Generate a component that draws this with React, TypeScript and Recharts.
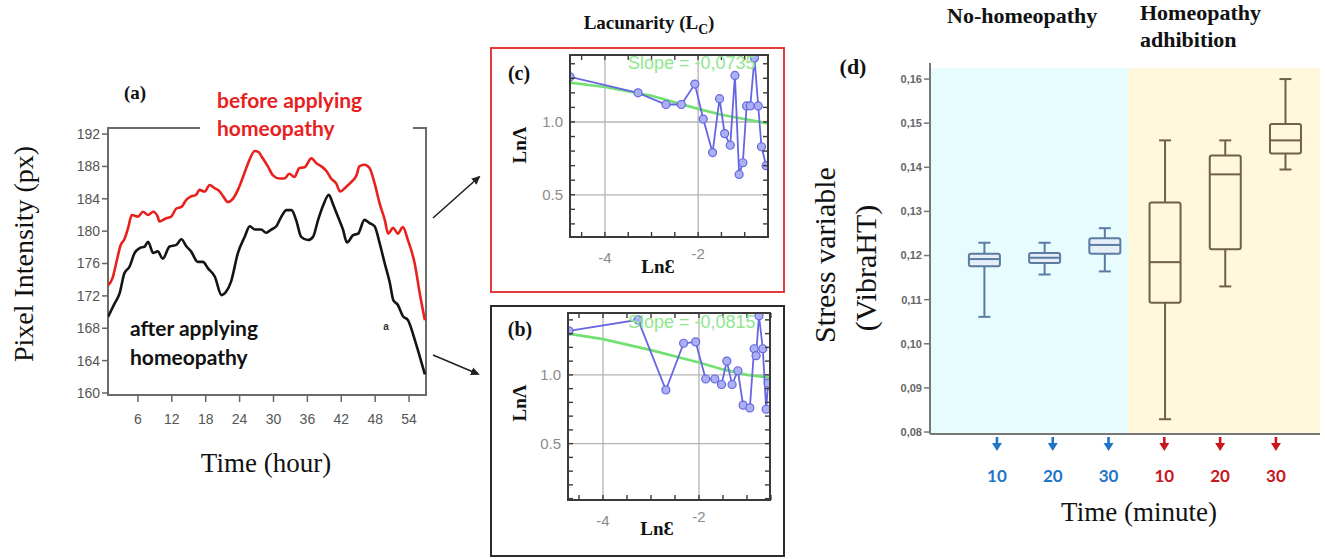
import React from "react";
import {
  LineChart,
  Line,
  XAxis,
  YAxis,
  ReferenceArea,
  ReferenceLine,
  ComposedChart,
  Bar,
} from "recharts";

// ---------------------------------------------------------------------------
// Datos
// ---------------------------------------------------------------------------

// (a) intensidad de píxel vs tiempo
const beforeHours = [0.7, 1.5, 2.3, 2.9, 3.6, 4.3, 4.9, 6, 6.9, 7.8, 8.7, 9.5, 9.8, 11, 11.9, 12.8, 13.7, 14.6, 15.4, 16.3, 16.9, 17.8, 18.7, 19.6, 20.5, 21.1, 21.9, 22.8, 23.7, 24.6, 25.5, 26.7, 27.3, 28.1, 29, 29.9, 31.1, 31.9, 32.8, 33.7, 34.6, 35.5, 36.7, 37.6, 38.5, 39.4, 40.2, 41.1, 41.8, 42.9, 43.8, 44.7, 45.2, 46.1, 47, 47.9, 48.8, 49.7, 50.3, 51.2, 52, 52.9, 53.8, 55, 55.9, 56.8];
const beforeValues = [173.3, 174.2, 176.5, 178.2, 179, 180.5, 182, 181.8, 182.4, 182, 182.4, 181.8, 181.2, 181.6, 181.8, 182.8, 183, 183.9, 184.3, 184.5, 185.1, 184.9, 185.7, 185.3, 184.9, 184.3, 183.6, 184, 185.1, 186.7, 188.4, 189.9, 189.8, 189, 188, 186.9, 186.5, 186.5, 187.1, 186.7, 187.8, 187.9, 189, 188.4, 188, 187.4, 186.5, 185.9, 184.9, 185.5, 186.1, 186.9, 188, 188.2, 187.8, 185.9, 183.4, 181.4, 179.7, 180.4, 179.7, 180.5, 178.9, 176, 172.3, 169];

const afterHours = [0.7, 1.9, 2.75, 3.6, 4.5, 5.4, 6.3, 7.2, 7.8, 8.7, 9.5, 10.4, 11.6, 12.8, 13.7, 14.6, 15.4, 16.6, 17.5, 18.4, 19.6, 20.8, 21.6, 22.5, 23.7, 24.9, 25.8, 26.7, 27.8, 28.7, 29.6, 30.5, 31.4, 32.3, 33.2, 34, 34.9, 36.1, 37, 37.9, 38.8, 39.8, 40.5, 41.4, 42.3, 43, 44.1, 45, 46.1, 47, 47.9, 48.8, 49.7, 50.6, 51.2, 52, 52.9, 53.8, 55, 55.9, 56.8];
const afterValues = [169.4, 171.1, 172.3, 174.8, 175.6, 177.3, 177.9, 178.1, 178.7, 177.3, 177.5, 176.6, 178.1, 178.3, 179, 178.1, 177.5, 176.2, 176.2, 175.4, 174.4, 172.1, 172.5, 173.8, 177.3, 179.3, 180.6, 180.2, 180.2, 179.8, 180.2, 180.6, 181.8, 182.6, 182.6, 181.4, 179.3, 178.9, 179.3, 181.4, 183.2, 184.5, 183.4, 181.8, 180.2, 178.6, 179.5, 179.7, 181.4, 181, 180.6, 178.5, 176, 173.6, 171.5, 170.9, 169.5, 169, 166.6, 164.5, 162.3];

const HOUR_TICKS = [6, 12, 18, 24, 30, 36, 42, 48, 54];
const INTENSITY_TICKS = [160, 164, 168, 172, 176, 180, 184, 188, 192];

// (c) lacunaridad antes
const cLnEps = [-4.75, -3.29, -2.69, -2.36, -2.07, -1.89, -1.69, -1.54, -1.43, -1.31, -1.21, -1.12, -1.04, -0.96, -0.88, -0.79, -0.71, -0.64, -0.54];
const cLnLac = [1.31, 1.2, 1.12, 1.12, 1.26, 1.02, 0.79, 1.16, 0.92, 0.84, 1.32, 0.64, 0.72, 1.11, 1.11, 1.44, 1.11, 0.83, 0.7];
const cFitEps = [-4.75, -4, -3, -2, -1.5, -0.5];
const cFitLac = [1.27, 1.24, 1.18, 1.09, 1.05, 0.99];

// (b) lacunaridad después
const bLnEps = [-4.71, -3.27, -2.69, -2.32, -2.07, -1.86, -1.67, -1.53, -1.42, -1.31, -1.19, -1.08, -0.94, -0.85, -0.81, -0.75, -0.67, -0.6, -0.56];
const bLnLac = [1.32, 1.4, 0.89, 1.23, 1.24, 0.97, 0.97, 0.93, 1.1, 0.93, 1.03, 0.78, 0.76, 1.19, 1.14, 1.43, 1.19, 0.75, 0.94];
const bFitEps = [-4.73, -4, -3, -2, -1.5, -1, -0.52];
const bFitLac = [1.3, 1.26, 1.18, 1.09, 1.04, 1.0, 0.98];

const LN_EPS_MINOR = [-4.5, -4, -3.5, -3, -2.5, -2, -1.5, -1, -0.5];
const LN_LAC_MINOR = [0.1, 0.2, 0.3, 0.4, 0.5, 0.6, 0.7, 0.8, 0.9, 1.0, 1.1, 1.2, 1.3, 1.4];
const LN_EPS_LABELS = [-4, -2];
const LN_LAC_LABELS = [0.5, 1.0];

// (d) boxplots de la variable de estrés
const boxPos = [1, 2, 3, 4, 5, 6];
const boxMin = [0.1061, 0.1157, 0.1164, 0.0829, 0.113, 0.1395];
const boxQ1 = [0.1176, 0.1183, 0.1204, 0.1093, 0.1214, 0.1431];
const boxMedian = [0.1192, 0.1195, 0.1224, 0.1185, 0.1384, 0.1461];
const boxQ3 = [0.1204, 0.1206, 0.1239, 0.132, 0.1427, 0.1498];
const boxMax = [0.1229, 0.1229, 0.1262, 0.1461, 0.1461, 0.16];
const STRESS_TICKS = [0.08, 0.09, 0.1, 0.11, 0.12, 0.13, 0.14, 0.15, 0.16];
const TIME_LABELS = ["10", "20", "30", "10", "20", "30"];

// ---------------------------------------------------------------------------
// Estilos
// ---------------------------------------------------------------------------
const SERIF = '"Liberation Serif", "Times New Roman", serif';
const SANS = '"Liberation Sans", Arial, sans-serif';
const LATO = 'Lato, "Open Sans", sans-serif';

const BLUE_TXT = "#1f76c6";
const RED_TXT = "#c8161e";
const BOX_BLUE = "#5b7ba3";
const BOX_BROWN = "#6f6049";

function toPoints(xs: number[], ys: number[]) {
  return xs.map((x, i) => ({ x, y: ys[i] }));
}

function Txt({
  x,
  y,
  rotate,
  style,
  children,
}: {
  x: number;
  y: number;
  rotate?: boolean;
  style?: React.CSSProperties;
  children: React.ReactNode;
}) {
  return (
    <div
      style={{
        position: "absolute",
        left: x,
        top: y,
        transform: `translate(-50%, -50%)${rotate ? " rotate(-90deg)" : ""}`,
        whiteSpace: "nowrap",
        lineHeight: 1,
        ...style,
      }}
    >
      {children}
    </div>
  );
}

// ---------------------------------------------------------------------------
// (a) Pixel intensity
// ---------------------------------------------------------------------------
const A_X_DOMAIN: [number, number] = [0.7, 57];
const A_Y_DOMAIN: [number, number] = [159.75, 192.75];

function PanelA() {
  const before = toPoints(beforeHours, beforeValues);
  const after = toPoints(afterHours, afterValues);
  const tickStyle = { fill: "#555", fontSize: 14, fontFamily: SANS };
  return (
    <div style={{ position: "absolute", left: 0, top: 0 }}>
      <LineChart width={440} height={480} margin={{ top: 128, right: 14, bottom: 55, left: 68 }}>
        <XAxis
          type="number"
          dataKey="x"
          domain={A_X_DOMAIN}
          allowDataOverflow
          ticks={HOUR_TICKS}
          interval={0}
          axisLine={false}
          tickLine={{ stroke: "#666", strokeWidth: 1.5 }}
          tickSize={7}
          tickMargin={12}
          tick={tickStyle}
          height={30}
        />
        <YAxis
          type="number"
          dataKey="y"
          domain={A_Y_DOMAIN}
          allowDataOverflow
          ticks={INTENSITY_TICKS}
          interval={0}
          axisLine={false}
          tickLine={{ stroke: "#666", strokeWidth: 1.5 }}
          tickSize={6}
          tick={tickStyle}
          width={40}
        />
        <ReferenceArea
          x1={A_X_DOMAIN[0]}
          x2={A_X_DOMAIN[1]}
          y1={A_Y_DOMAIN[0]}
          y2={A_Y_DOMAIN[1]}
          fill="none"
          stroke="#6b6b6b"
          strokeWidth={2}
        />
        <Line
          data={before}
          dataKey="y"
          type="monotone"
          stroke="#e8211d"
          strokeWidth={2.6}
          dot={false}
          isAnimationActive={false}
        />
        <Line
          data={after}
          dataKey="y"
          type="monotone"
          stroke="#141414"
          strokeWidth={2.6}
          dot={false}
          isAnimationActive={false}
        />
      </LineChart>
    </div>
  );
}

// ---------------------------------------------------------------------------
// (b)/(c) Lacunaridad: ticks menores hacia dentro en los 4 bordes
// ---------------------------------------------------------------------------
function EdgeTick(props: any) {
  const { x, y, payload, side, labels } = props;
  const v = payload?.value;
  const L = 5;
  let seg = [x, y, x, y - L];
  if (side === "top") seg = [x, y, x, y + L];
  if (side === "left") seg = [x, y, x + L, y];
  if (side === "right") seg = [x, y, x - L, y];
  const label = (labels as number[] | undefined)?.find((l) => Math.abs(l - v) < 1e-6);
  return (
    <g>
      <line x1={seg[0]} y1={seg[1]} x2={seg[2]} y2={seg[3]} stroke="#3a3a3a" strokeWidth={1.4} />
      {label !== undefined && side === "bottom" && (
        <text
          x={x}
          y={y + (label === -2 ? 16 : 20)}
          textAnchor="middle"
          dominantBaseline="central"
          fill="#8a8a8a"
          fontSize={15}
          fontFamily={SANS}
        >
          {label}
        </text>
      )}
      {label !== undefined && side === "left" && (
        <text
          x={x - 7}
          y={y}
          textAnchor="end"
          dominantBaseline="central"
          fill="#8a8a8a"
          fontSize={15}
          fontFamily={SANS}
        >
          {label.toFixed(1)}
        </text>
      )}
    </g>
  );
}

function LacunarityPlot({
  width,
  height,
  margin,
  xDomain,
  yDomain,
  pts,
  fit,
}: {
  width: number;
  height: number;
  margin: { top: number; right: number; bottom: number; left: number };
  xDomain: [number, number];
  yDomain: [number, number];
  pts: { x: number; y: number }[];
  fit: { x: number; y: number }[];
}) {
  const common = {
    type: "number" as const,
    allowDataOverflow: true,
    interval: 0 as const,
    axisLine: false,
    tickLine: false,
    tickSize: 0,
    tickMargin: 0,
  };
  const yTicks = LN_LAC_MINOR.filter((t) => t > yDomain[0] && t < yDomain[1]);
  return (
    <LineChart width={width} height={height} margin={margin}>
      <XAxis
        {...common}
        xAxisId="bottom"
        dataKey="x"
        domain={xDomain}
        ticks={LN_EPS_MINOR}
        height={1}
        tick={<EdgeTick side="bottom" labels={LN_EPS_LABELS} />}
      />
      <XAxis
        {...common}
        xAxisId="top"
        orientation="top"
        dataKey="x"
        domain={xDomain}
        ticks={LN_EPS_MINOR}
        height={1}
        tick={<EdgeTick side="top" />}
      />
      <YAxis
        {...common}
        yAxisId="left"
        domain={yDomain}
        ticks={yTicks}
        width={1}
        tick={<EdgeTick side="left" labels={LN_LAC_LABELS} />}
      />
      <YAxis
        {...common}
        yAxisId="right"
        orientation="right"
        domain={yDomain}
        ticks={yTicks}
        width={1}
        tick={<EdgeTick side="right" />}
      />
      {LN_EPS_LABELS.map((v) => (
        <ReferenceLine key={`x${v}`} xAxisId="bottom" yAxisId="left" x={v} stroke="#b4b4b4" strokeWidth={1.3} />
      ))}
      {LN_LAC_LABELS.map((v) => (
        <ReferenceLine key={`y${v}`} xAxisId="bottom" yAxisId="left" y={v} stroke="#b4b4b4" strokeWidth={1.3} />
      ))}
      <Line
        xAxisId="bottom"
        yAxisId="left"
        data={fit}
        dataKey="y"
        type="linear"
        stroke="#74e074"
        strokeWidth={2.6}
        dot={false}
        isAnimationActive={false}
      />
      <Line
        xAxisId="bottom"
        yAxisId="left"
        data={pts}
        dataKey="y"
        type="linear"
        stroke="#6666e2"
        strokeWidth={1.8}
        dot={{ r: 4, fill: "#aab0f2", stroke: "#6666e2", strokeWidth: 1.2 }}
        isAnimationActive={false}
      />
    </LineChart>
  );
}

// ---------------------------------------------------------------------------
// (d) Boxplots
// ---------------------------------------------------------------------------
function BoxShape(props: any) {
  const { x, y, width, height, index } = props;
  const d = boxData[index];
  const top = Math.min(y, y + height);
  const h = Math.abs(height);
  const span = d.max - d.min;
  const py = (v: number) => top + ((d.max - v) / span) * h;
  const cx = x + width / 2;
  const color = index < 3 ? BOX_BLUE : BOX_BROWN;
  const cap = 6;
  return (
    <g stroke={color} strokeWidth={2} fill="none">
      <line x1={cx} y1={py(d.max)} x2={cx} y2={py(d.q3)} />
      <line x1={cx} y1={py(d.q1)} x2={cx} y2={py(d.min)} />
      <line x1={cx - cap} y1={py(d.max)} x2={cx + cap} y2={py(d.max)} />
      <line x1={cx - cap} y1={py(d.min)} x2={cx + cap} y2={py(d.min)} />
      <rect
        x={x}
        y={py(d.q3)}
        width={width}
        height={py(d.q1) - py(d.q3)}
        rx={2}
        fill={index < 3 ? "#e6eef8" : "none"}
      />
      <line x1={x} y1={py(d.median)} x2={x + width} y2={py(d.median)} />
    </g>
  );
}

function TimeTick(props: any) {
  const { x, y, index } = props;
  const color = index < 3 ? BLUE_TXT : RED_TXT;
  return (
    <g>
      <line x1={x} y1={y + 3} x2={x} y2={y + 11} stroke={color} strokeWidth={2.6} />
      <path d={`M${x - 5},${y + 9} L${x + 5},${y + 9} L${x},${y + 17} Z`} fill={color} />
      <text
        x={x}
        y={y + 41}
        textAnchor="middle"
        dominantBaseline="central"
        fill={color}
        fontSize={17}
        fontWeight={700}
        fontFamily={LATO}
      >
        {TIME_LABELS[index]}
      </text>
    </g>
  );
}

const boxData = boxPos.map((pos, i) => ({
  pos,
  min: boxMin[i],
  q1: boxQ1[i],
  median: boxMedian[i],
  q3: boxQ3[i],
  max: boxMax[i],
}));

// ejes de (d): posiciones de caja y de rótulo de tiempo, y el fondo sombreado
const BOX_DOMAIN: [number, number] = [0.103, 6.58];
const TIME_DOMAIN: [number, number] = [-0.2, 6.79];
const STRESS_DOMAIN: [number, number] = [0.07955, 0.16364];
const PHASE_SPLIT = 3.39;
const SHADE_TOP = 0.1625;

function PanelD() {
  return (
    <div style={{ position: "absolute", left: 800, top: 0 }}>
      <ComposedChart
        width={525}
        height={559}
        data={boxData}
        margin={{ top: 63, right: 5, bottom: 65, left: 90 }}
      >
        <XAxis
          xAxisId="box"
          type="number"
          dataKey="pos"
          domain={BOX_DOMAIN}
          allowDataOverflow
          hide
          height={0}
        />
        <XAxis
          xAxisId="time"
          type="number"
          dataKey="pos"
          domain={TIME_DOMAIN}
          allowDataOverflow
          ticks={boxPos}
          interval={0}
          axisLine={{ stroke: "#777", strokeWidth: 2 }}
          tickLine={false}
          tickSize={0}
          tickMargin={0}
          tick={<TimeTick />}
          height={60}
        />
        <YAxis
          type="number"
          domain={STRESS_DOMAIN}
          allowDataOverflow
          ticks={STRESS_TICKS}
          interval={0}
          axisLine={{ stroke: "#777", strokeWidth: 2 }}
          tickLine={{ stroke: "#777", strokeWidth: 1.5 }}
          tickSize={6}
          tick={{ fill: "#666", fontSize: 11, fontWeight: 700, fontFamily: SANS }}
          tickFormatter={(v: number) => v.toFixed(2).replace(".", ",")}
          width={40}
        />
        <ReferenceArea
          xAxisId="box"
          x1={BOX_DOMAIN[0]}
          x2={PHASE_SPLIT}
          y1={STRESS_DOMAIN[0]}
          y2={SHADE_TOP}
          fill="#e7fcfe"
          fillOpacity={1}
          stroke="none"
        />
        <ReferenceArea
          xAxisId="box"
          x1={PHASE_SPLIT}
          x2={BOX_DOMAIN[1]}
          y1={STRESS_DOMAIN[0]}
          y2={SHADE_TOP}
          fill="#fff8dd"
          fillOpacity={1}
          stroke="none"
        />
        <Bar
          xAxisId="box"
          dataKey={(d: any) => [d.min, d.max]}
          barSize={31}
          shape={BoxShape}
          isAnimationActive={false}
        />
      </ComposedChart>
    </div>
  );
}

// ---------------------------------------------------------------------------
// Figura completa
// ---------------------------------------------------------------------------
function Frame({ l, t, w, h, border }: { l: number; t: number; w: number; h: number; border: string }) {
  return (
    <div
      style={{
        position: "absolute",
        left: l,
        top: t,
        width: w,
        height: h,
        boxSizing: "border-box",
        border,
        pointerEvents: "none",
      }}
    />
  );
}

export default function App() {
  const serifBold: React.CSSProperties = { fontFamily: SERIF, fontWeight: 700, color: "#111" };
  const serif: React.CSSProperties = { fontFamily: SERIF, color: "#111" };
  const slopeStyle: React.CSSProperties = {
    position: "absolute",
    overflow: "hidden",
    whiteSpace: "nowrap",
    color: "#8ee88e",
    fontFamily: SANS,
    fontSize: 18,
    lineHeight: "20px",
  };

  return (
    <div
      style={{
        position: "absolute",
        left: 0,
        top: 0,
        width: 1325,
        height: 559,
        overflow: "hidden",
        background: "#fff",
      }}
    >
      <PanelA />

      {/* (c) antes */}
      <div style={{ position: "absolute", left: 490, top: 47 }}>
        <LacunarityPlot
          width={295}
          height={246}
          margin={{ top: 7, right: 16, bottom: 55, left: 79 }}
          xDomain={[-4.75, -0.5]}
          yDomain={[0.21, 1.46]}
          pts={toPoints(cLnEps, cLnLac)}
          fit={toPoints(cFitEps, cFitLac)}
        />
      </div>
      <Frame l={569} t={54} w={200} h={184} border="2px solid #3a3a3a" />
      <Frame l={490} t={47} w={295} h={246} border="2px solid #e43c3c" />

      {/* (b) después */}
      <div style={{ position: "absolute", left: 490, top: 305 }}>
        <LacunarityPlot
          width={295}
          height={251}
          margin={{ top: 7, right: 14, bottom: 55, left: 77 }}
          xDomain={[-4.73, -0.52]}
          yDomain={[0.09, 1.45]}
          pts={toPoints(bLnEps, bLnLac)}
          fit={toPoints(bFitEps, bFitLac)}
        />
      </div>
      <Frame l={567} t={312} w={204} h={189} border="2px solid #3a3a3a" />
      <Frame l={490} t={305} w={295} h={252} border="2.5px solid #2b2b2b" />

      <PanelD />

      {/* flechas (a) -> (c), (a) -> (b) */}
      <svg
        width={1325}
        height={559}
        style={{ position: "absolute", left: 0, top: 0, pointerEvents: "none" }}
      >
        <defs>
          <marker id="head" markerWidth="10" markerHeight="10" refX="7" refY="5" orient="auto" markerUnits="userSpaceOnUse">
            <path d="M0,1 L9,5 L0,9 Z" fill="#222" />
          </marker>
        </defs>
        <line x1={433} y1={218} x2={479} y2={177} stroke="#222" strokeWidth={1.6} markerEnd="url(#head)" />
        <line x1={433} y1={355} x2={478} y2={374} stroke="#222" strokeWidth={1.6} markerEnd="url(#head)" />
      </svg>

      {/* textos (a) */}
      <Txt x={135} y={92} style={{ ...serifBold, fontSize: 19 }}>(a)</Txt>
      <div
        style={{
          position: "absolute",
          left: 200,
          top: 86,
          width: 213,
          height: 56,
          background: "#fff",
          paddingLeft: 17,
          boxSizing: "border-box",
          fontFamily: LATO,
          fontWeight: 700,
          fontSize: 21,
          lineHeight: "28px",
          color: "#e8201e",
          whiteSpace: "nowrap",
        }}
      >
        before applying
        <br />
        homeopathy
      </div>
      <div
        style={{
          position: "absolute",
          left: 130,
          top: 313,
          fontFamily: LATO,
          fontWeight: 700,
          fontSize: 21,
          lineHeight: "29px",
          color: "#111",
          whiteSpace: "nowrap",
        }}
      >
        after applying
        <br />
        homeopathy
      </div>
      <Txt x={386} y={327} style={{ fontFamily: SANS, fontWeight: 700, fontSize: 10, color: "#333" }}>a</Txt>
      <Txt x={24} y={254} rotate style={{ ...serif, fontSize: 28 }}>Pixel Intensity (px)</Txt>
      <Txt x={266} y={463} style={{ ...serif, fontSize: 27 }}>Time (hour)</Txt>

      {/* textos (b)/(c) */}
      <Txt x={649} y={25} style={{ ...serifBold, fontSize: 19 }}>
        Lacunarity (L<sub style={{ fontSize: "0.72em" }}>C</sub>)
      </Txt>
      <Txt x={519} y={73} style={{ ...serifBold, fontSize: 20 }}>(c)</Txt>
      <Txt x={520} y={329} style={{ ...serifBold, fontSize: 20 }}>(b)</Txt>
      <Txt x={519} y={145} rotate style={{ ...serifBold, fontSize: 19 }}>LnΛ</Txt>
      <Txt x={519} y={403} rotate style={{ ...serifBold, fontSize: 19 }}>LnΛ</Txt>
      <Txt x={658} y={266} style={{ ...serifBold, fontSize: 19 }}>LnƐ</Txt>
      <Txt x={657} y={528} style={{ ...serifBold, fontSize: 19 }}>LnƐ</Txt>
      <div style={{ ...slopeStyle, left: 628, top: 53, width: 140 }}>Slope = -0,0735</div>
      <div style={{ ...slopeStyle, left: 628, top: 312, width: 142 }}>Slope = -0,0815</div>

      {/* textos (d) */}
      <div
        style={{
          position: "absolute",
          left: 947,
          top: 0,
          ...serifBold,
          fontSize: 22,
          lineHeight: "31px",
          whiteSpace: "nowrap",
        }}
      >
        No-homeopathy
      </div>
      <div
        style={{
          position: "absolute",
          left: 1140,
          top: -1,
          ...serifBold,
          fontSize: 22,
          lineHeight: "27px",
          whiteSpace: "nowrap",
        }}
      >
        Homeopathy
        <br />
        adhibition
      </div>
      <Txt x={853} y={67} style={{ ...serifBold, fontSize: 22 }}>(d)</Txt>
      <Txt x={825} y={255} rotate style={{ ...serif, fontSize: 30 }}>Stress variable</Txt>
      <Txt x={866} y={268} rotate style={{ ...serif, fontSize: 30 }}>(VibraHT)</Txt>
      <Txt x={1139} y={512} style={{ ...serif, fontSize: 27 }}>Time (minute)</Txt>
    </div>
  );
}
